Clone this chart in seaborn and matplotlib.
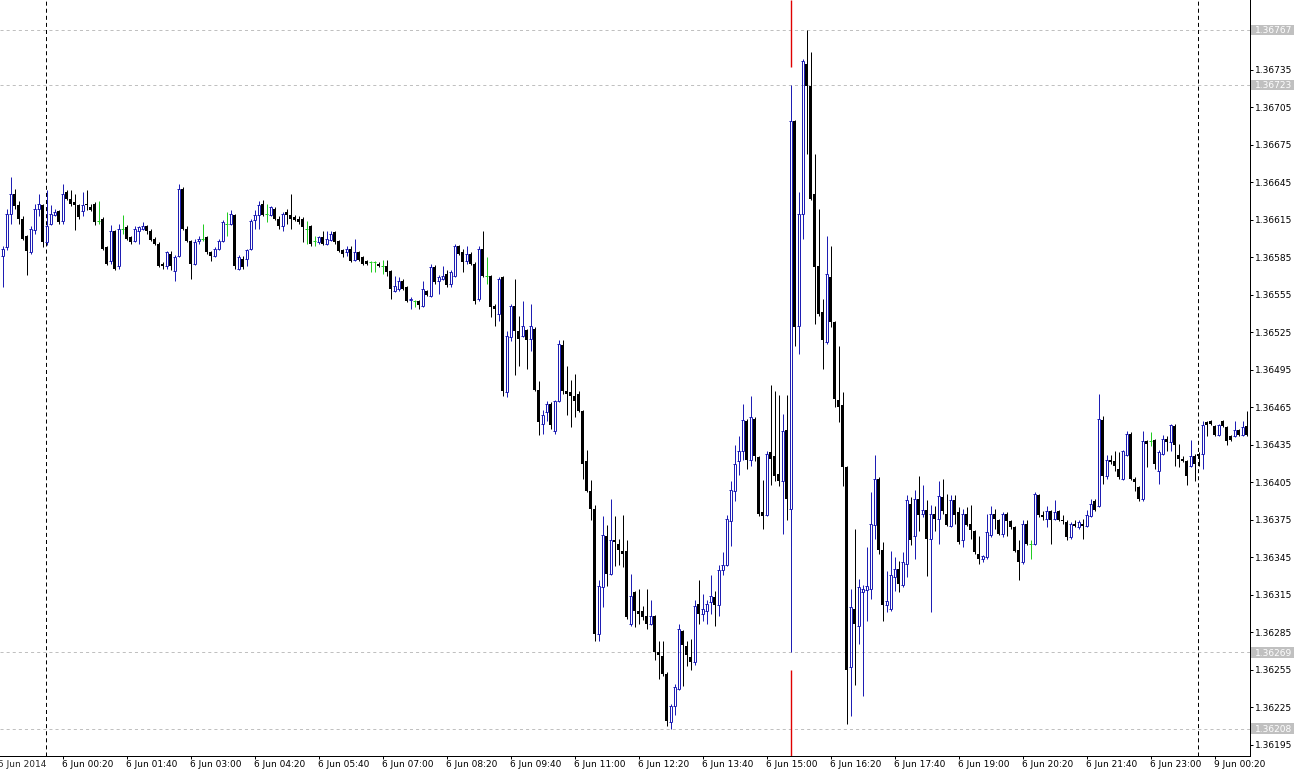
import numpy as np
import matplotlib
matplotlib.use("Agg")
import matplotlib.pyplot as plt
import matplotlib.transforms as mtransforms
from matplotlib.patches import Rectangle
import seaborn as sns

# ==========================================
# DATA: M5 candles, 5 Jun 23:05 -> 9 Jun 00:55 (prices in points, 1e-5)
# ==========================================
opens = [
    136586, 136593, 136620, 136636, 136627, 136616, 136602, 136589, 136607, 136624, 136627, 136597,
    136612, 136619, 136622, 136614, 136637, 136632, 136629, 136627, 136622, 136628, 136625, 136628,
    136614, 136616, 136593, 136582, 136606, 136578, 136608, 136609, 136601, 136598, 136606, 136608,
    136610, 136606, 136600, 136596, 136580, 136578, 136588, 136574, 136586, 136640, 136608, 136598,
    136580, 136598, 136600, 136601, 136589, 136586, 136592, 136598, 136612, 136612, 136619, 136576,
    136584, 136584, 136592, 136615, 136619, 136628, 136620, 136619, 136624, 136616, 136610, 136621,
    136619, 136617, 136616, 136616, 136608, 136610, 136598, 136597, 136601, 136596, 136599, 136605,
    136598, 136591, 136589, 136592, 136583, 136589, 136585, 136582, 136581, 136581, 136580, 136578,
    136578, 136574, 136558, 136560, 136566, 136561, 136551, 136550, 136550, 136546, 136558, 136554,
    136577, 136566, 136568, 136572, 136564, 136570, 136594, 136589, 136582, 136588, 136580, 136552,
    136592, 136570, 136570, 136546, 136540, 136569, 136477, 136521, 136546, 136526, 136522, 136527,
    136520, 136528, 136479, 136452, 136461, 136468, 136446, 136470, 136515, 136478, 136477, 136474,
    136476, 136462, 136422, 136398, 136384, 136284, 136321, 136362, 136332, 136359, 136356, 136350,
    136350, 136292, 136317, 136302, 136302, 136298, 136292, 136298, 136269, 136266, 136252, 136213,
    136226, 136240, 136286, 136274, 136265, 136261, 136308, 136300, 136302, 136309, 136313, 136307,
    136335, 136339, 136374, 136398, 136422, 136430, 136454, 136423, 136456, 136425, 136381, 136379,
    136429, 136426, 136412, 136406, 136447, 136384, 136694, 136530, 136620, 136740, 136722, 136636,
    136578, 136541, 136517, 136569, 136533, 136471, 136467, 136417, 136257, 136304, 136290, 136317,
    136319, 136320, 136371, 136408, 136351, 136307, 136304, 136329, 136336, 136323, 136340, 136388,
    136362, 136392, 136380, 136383, 136360, 136380, 136376, 136393, 136380, 136370, 136391, 136381,
    136359, 136380, 136372, 136366, 136348, 136344, 136345, 136363, 136380, 136375, 136364, 136380,
    136374, 136369, 136351, 136341, 136372, 136356, 136356, 136395, 136379, 136376, 136382, 136376,
    136382, 136375, 136373, 136361, 136372, 136369, 136372, 136370, 136378, 136390, 136386, 136455,
    136410, 136423, 136422, 136416, 136408, 136427, 136444, 136408, 136401, 136392, 136438, 136438,
    136439, 136414, 136428, 136440, 136437, 136450, 136427, 136424, 136422, 136418, 136426, 136428,
    136428, 136453, 136454, 136450, 136443, 136454, 136449, 136442, 136442, 136447, 136443, 136450,
]
highs = [
    136594, 136624, 136649, 136640, 136630, 136618, 136603, 136610, 136628, 136636, 136628, 136639,
    136627, 136624, 136623, 136644, 136639, 136639, 136636, 136628, 136637, 136639, 136628, 136629,
    136630, 136617, 136594, 136611, 136607, 136612, 136619, 136611, 136602, 136610, 136610, 136613,
    136611, 136608, 136601, 136597, 136581, 136590, 136590, 136587, 136644, 136641, 136610, 136599,
    136600, 136602, 136612, 136602, 136590, 136593, 136600, 136615, 136621, 136623, 136620, 136587,
    136586, 136592, 136616, 136623, 136630, 136631, 136628, 136626, 136625, 136618, 136621, 136624,
    136636, 136619, 136618, 136617, 136614, 136611, 136602, 136602, 136606, 136606, 136606, 136606,
    136599, 136592, 136594, 136594, 136600, 136590, 136586, 136583, 136582, 136582, 136581, 136583,
    136583, 136575, 136570, 136569, 136568, 136562, 136553, 136551, 136551, 136566, 136559, 136580,
    136579, 136571, 136578, 136575, 136575, 136596, 136595, 136592, 136594, 136589, 136581, 136594,
    136606, 136585, 136571, 136548, 136569, 136570, 136526, 136548, 136568, 136538, 136550, 136528,
    136548, 136529, 136486, 136463, 136470, 136469, 136471, 136519, 136519, 136498, 136487, 136492,
    136478, 136463, 136431, 136407, 136387, 136327, 136378, 136371, 136392, 136378, 136360, 136379,
    136359, 136332, 136318, 136320, 136306, 136320, 136311, 136299, 136278, 136278, 136253, 136228,
    136244, 136292, 136287, 136278, 136280, 136311, 136327, 136316, 136311, 136331, 136318, 136339,
    136349, 136379, 136406, 136435, 136442, 136468, 136456, 136474, 136457, 136426, 136407, 136430,
    136483, 136478, 136475, 136460, 136475, 136723, 136695, 136637, 136744, 136767, 136749, 136668,
    136624, 136552, 136602, 136594, 136534, 136514, 136477, 136418, 136320, 136368, 136328, 136323,
    136353, 136397, 136427, 136409, 136357, 136334, 136350, 136345, 136342, 136349, 136395, 136393,
    136399, 136410, 136403, 136391, 136387, 136386, 136406, 136408, 136396, 136395, 136395, 136385,
    136384, 136385, 136387, 136367, 136362, 136347, 136380, 136386, 136384, 136376, 136381, 136381,
    136375, 136370, 136359, 136375, 136375, 136359, 136397, 136396, 136382, 136386, 136383, 136391,
    136383, 136379, 136375, 136373, 136375, 136375, 136376, 136383, 136392, 136392, 136476, 136458,
    136427, 136427, 136430, 136429, 136431, 136446, 136445, 136409, 136402, 136446, 136439, 136445,
    136440, 136431, 136443, 136442, 136452, 136452, 136436, 136426, 136423, 136439, 136428, 136429,
    136454, 136454, 136455, 136451, 136452, 136455, 136450, 136443, 136454, 136448, 136454, 136462,
]
lows = [
    136561, 136591, 136612, 136624, 136612, 136599, 136571, 136588, 136604, 136618, 136593, 136595,
    136611, 136618, 136612, 136612, 136631, 136626, 136607, 136616, 136618, 136623, 136622, 136611,
    136612, 136591, 136579, 136580, 136575, 136576, 136604, 136599, 136596, 136597, 136596, 136607,
    136604, 136598, 136595, 136577, 136576, 136576, 136575, 136566, 136585, 136607, 136597, 136568,
    136579, 136596, 136598, 136588, 136582, 136585, 136591, 136597, 136602, 136611, 136576, 136575,
    136576, 136578, 136591, 136608, 136608, 136618, 136613, 136618, 136615, 136608, 136606, 136612,
    136608, 136614, 136612, 136597, 136596, 136594, 136594, 136596, 136595, 136595, 136598, 136596,
    136589, 136585, 136586, 136581, 136582, 136582, 136579, 136579, 136573, 136573, 136577, 136572,
    136570, 136552, 136557, 136558, 136559, 136549, 136544, 136545, 136544, 136545, 136554, 136553,
    136564, 136556, 136567, 136561, 136561, 136569, 136587, 136573, 136580, 136579, 136548, 136550,
    136569, 136564, 136537, 136530, 136534, 136474, 136473, 136518, 136491, 136498, 136521, 136496,
    136510, 136478, 136443, 136444, 136454, 136448, 136444, 136469, 136476, 136459, 136449, 136457,
    136461, 136408, 136397, 136375, 136278, 136278, 136305, 136322, 136331, 136338, 136339, 136337,
    136296, 136290, 136289, 136292, 136295, 136288, 136291, 136263, 136248, 136250, 136210, 136208,
    136219, 136239, 136242, 136258, 136255, 136259, 136292, 136294, 136292, 136300, 136290, 136298,
    136331, 136338, 136354, 136390, 136411, 136423, 136416, 136418, 136422, 136378, 136368, 136378,
    136403, 136406, 136402, 136364, 136375, 136269, 136514, 136508, 136600, 136668, 136631, 136532,
    136538, 136496, 136516, 136529, 136465, 136453, 136402, 136212, 136218, 136243, 136276, 136234,
    136294, 136312, 136360, 136348, 136294, 136301, 136302, 136318, 136317, 136321, 136329, 136355,
    136344, 136366, 136377, 136330, 136301, 136366, 136356, 136380, 136370, 136369, 136372, 136356,
    136353, 136370, 136360, 136348, 136340, 136341, 136344, 136361, 136368, 136363, 136361, 136362,
    136368, 136349, 136327, 136340, 136355, 136344, 136355, 136377, 136375, 136369, 136356, 136375,
    136374, 136372, 136359, 136360, 136369, 136368, 136360, 136369, 136377, 136382, 136385, 136404,
    136408, 136420, 136414, 136408, 136407, 136426, 136407, 136398, 136390, 136390, 136417, 136434,
    136416, 136404, 136427, 136430, 136430, 136418, 136417, 136421, 136403, 136417, 136406, 136418,
    136416, 136442, 136451, 136442, 136442, 136449, 136435, 136438, 136441, 136442, 136442, 136442,
]
closes = [
    136592, 136620, 136636, 136626, 136616, 136600, 136590, 136608, 136624, 136628, 136597, 136610,
    136620, 136621, 136613, 136636, 136632, 136628, 136627, 136617, 136627, 136627, 136623, 136613,
    136614, 136592, 136580, 136606, 136576, 136608, 136608, 136600, 136597, 136608, 136609, 136610,
    136606, 136599, 136596, 136578, 136578, 136589, 136578, 136585, 136640, 136608, 136598, 136580,
    136597, 136600, 136600, 136589, 136586, 136592, 136598, 136613, 136612, 136620, 136578, 136585,
    136577, 136591, 136614, 136619, 136627, 136619, 136620, 136625, 136616, 136610, 136620, 136619,
    136616, 136615, 136613, 136609, 136608, 136596, 136598, 136601, 136596, 136600, 136604, 136597,
    136590, 136588, 136592, 136582, 136589, 136583, 136580, 136580, 136581, 136581, 136578, 136578,
    136573, 136560, 136562, 136566, 136560, 136550, 136552, 136550, 136547, 136560, 136555, 136577,
    136565, 136569, 136570, 136563, 136573, 136594, 136588, 136581, 136588, 136580, 136550, 136592,
    136570, 136570, 136545, 136544, 136568, 136478, 136522, 136546, 136526, 136520, 136530, 136519,
    136530, 136479, 136453, 136459, 136468, 136451, 136470, 136516, 136478, 136476, 136474, 136470,
    136462, 136420, 136398, 136384, 136284, 136322, 136363, 136332, 136359, 136357, 136351, 136348,
    136297, 136314, 136302, 136300, 136297, 136292, 136298, 136269, 136267, 136252, 136214, 136226,
    136241, 136288, 136275, 136267, 136261, 136306, 136300, 136304, 136308, 136314, 136307, 136335,
    136339, 136376, 136399, 136420, 136430, 136455, 136423, 136457, 136426, 136380, 136378, 136428,
    136424, 136410, 136406, 136446, 136392, 136694, 136529, 136620, 136742, 136722, 136632, 136577,
    136540, 136519, 136572, 136533, 136472, 136465, 136417, 136255, 136305, 136292, 136321, 136320,
    136322, 136372, 136408, 136351, 136307, 136310, 136331, 136336, 136324, 136341, 136391, 136359,
    136392, 136379, 136383, 136360, 136380, 136376, 136394, 136382, 136371, 136391, 136379, 136357,
    136380, 136371, 136367, 136349, 136344, 136346, 136365, 136380, 136376, 136364, 136380, 136374,
    136369, 136350, 136341, 136372, 136356, 136356, 136396, 136379, 136377, 136382, 136375, 136381,
    136375, 136374, 136361, 136372, 136370, 136373, 136370, 136379, 136388, 136383, 136456, 136410,
    136423, 136421, 136418, 136409, 136430, 136444, 136408, 136405, 136392, 136438, 136436, 136438,
    136420, 136429, 136440, 136437, 136451, 136435, 136424, 136422, 136410, 136426, 136420, 136426,
    136451, 136451, 136452, 136443, 136451, 136450, 136438, 136439, 136447, 136443, 136449, 136443,
]

time_labels = ["6 Jun 00:20", "6 Jun 01:40", "6 Jun 03:00", "6 Jun 04:20", "6 Jun 05:40",
               "6 Jun 07:00", "6 Jun 08:20", "6 Jun 09:40", "6 Jun 11:00", "6 Jun 12:20",
               "6 Jun 13:40", "6 Jun 15:00", "6 Jun 16:20", "6 Jun 17:40", "6 Jun 19:00",
               "6 Jun 20:20", "6 Jun 21:40", "6 Jun 23:00", "9 Jun 00:20"]
label_bars = list(range(15, 304, 16))
first_label = "5 Jun 2014"
day_starts = [11, 299]            # period separators
nfp_bar = 197                     # vertical line at the release bar
marked_prices = [1.36767, 1.36723, 1.36269, 1.36208]

UP = "#1e1eb4"
DOWN = "black"
DOJI = "#22cc22"
EVENT = "#e00000"
PX = 0.72  # one pixel in points at dpi 100

sns.set_style("white")
plt.rcParams["font.family"] = ["DejaVu Sans", "sans-serif"]
plt.rcParams["lines.scale_dashes"] = False

o = np.array(opens) / 1e5
h = np.array(highs) / 1e5
l = np.array(lows) / 1e5
c = np.array(closes) / 1e5
x = np.arange(len(o))
up = c > o
dn = c < o
dj = c == o

fig = plt.figure(figsize=(12.94, 7.72), dpi=100)
ax = fig.add_axes([0, 16 / 772, 1250 / 1294, 756 / 772])
ymin, ymax = 1.36186, 1.36791
ax.set_xlim(-0.625, 311.875)
ax.set_ylim(ymin, ymax)

# grey dashed price lines
for p in marked_prices:
    ax.axhline(p, color="#c0c0c0", lw=PX, linestyle=(0, (2.2, 2.2)), zorder=0)

# day separators
for d in day_starts:
    ax.axvline(d - 0.125, color="black", lw=PX, linestyle=(0, (2.9, 2.2)), zorder=0)

# red event line, broken around the candle
gap = 0.00014
ax.plot([nfp_bar, nfp_bar], [h[nfp_bar] + gap, ymax], color=EVENT, lw=1.0,
        solid_capstyle="butt", zorder=0.5)
ax.plot([nfp_bar, nfp_bar], [ymin, l[nfp_bar] - gap], color=EVENT, lw=1.0,
        solid_capstyle="butt", zorder=0.5)

# bear + doji wicks, bull wicks only outside the hollow body
ax.vlines(x[dn], l[dn], h[dn], colors=DOWN, lw=PX, zorder=1)
ax.vlines(x[dj], l[dj], h[dj], colors=DOJI, lw=PX, zorder=1)
ax.vlines(x[up], c[up], h[up], colors=UP, lw=PX, zorder=1)
ax.vlines(x[up], l[up], o[up], colors=UP, lw=PX, zorder=1)

# bear bodies: solid, 3 px wide
ax.bar(x[dn], (o - c)[dn], bottom=c[dn], width=0.75, color=DOWN,
       linewidth=0, antialiased=False, zorder=2)

# bull bodies: 1 px blue outline, hollow
xu = x[up]
ax.vlines(xu - 0.25, o[up], c[up], colors=UP, lw=PX, zorder=2)
ax.vlines(xu + 0.25, o[up], c[up], colors=UP, lw=PX, zorder=2)
ax.hlines(o[up], xu - 0.375, xu + 0.375, colors=UP, lw=PX, zorder=2)
ax.hlines(c[up], xu - 0.375, xu + 0.375, colors=UP, lw=PX, zorder=2)

# doji tick
ax.hlines(o[dj], x[dj] - 0.375, x[dj] + 0.375, colors=DOJI, lw=PX, zorder=2)

# axes look
sns.despine(ax=ax, left=True, top=True, right=False, bottom=False)
for s in ("right", "bottom"):
    ax.spines[s].set_color("black")
    ax.spines[s].set_linewidth(PX)

price_ticks = np.round(np.arange(1.36195, 1.36736, 0.0003), 5)
ax.yaxis.tick_right()
ax.set_yticks(price_ticks)
ax.set_yticklabels([f"{v:.5f}" for v in price_ticks])
ax.tick_params(axis="y", right=True, left=False, labelright=True, labelleft=False,
               direction="out", length=2.2, width=PX, pad=1.5, labelsize=6.5,
               colors="black")

ax.set_xticks(label_bars)
ax.set_xticklabels(time_labels, ha="left")
ax.tick_params(axis="x", bottom=True, direction="out", length=2.2, width=PX,
               pad=1.0, labelsize=6.5, colors="black")
ax.grid(False)

trans_x = mtransforms.offset_copy(ax.get_xaxis_transform(), fig=fig, y=-3.2, units="points")
ax.text(-1.1, 0, first_label, transform=trans_x, ha="left", va="top",
        fontsize=6.5, clip_on=False)

# grey price boxes on the scale
blend = mtransforms.blended_transform_factory(ax.transAxes, ax.transData)
for p in marked_prices:
    ax.add_patch(Rectangle((1.0008, p - 0.000043), 0.0352, 0.000086, transform=blend,
                           facecolor="#c0c0c0", edgecolor="none", clip_on=False, zorder=3))
    ax.text(1.0036, p, f"{p:.5f}", transform=blend, ha="left", va="center_baseline",
            color="white", fontsize=6.5, clip_on=False, zorder=4)

fig.savefig("out.png", dpi=100)
